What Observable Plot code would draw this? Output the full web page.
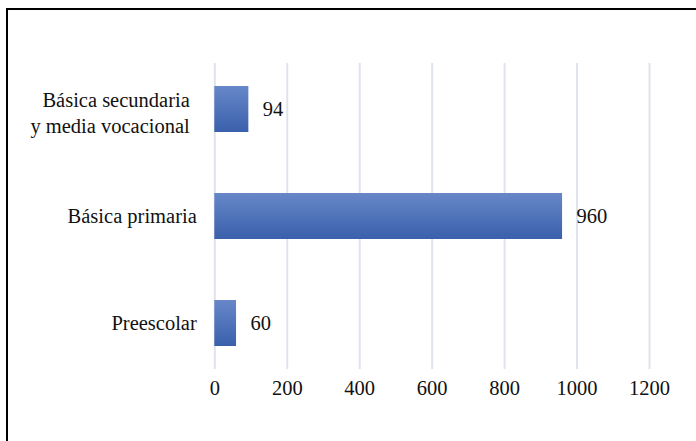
<!DOCTYPE html>
<html>
<head>
<meta charset="utf-8">
<script src="https://cdn.jsdelivr.net/npm/d3@7"></script>
<script src="https://cdn.jsdelivr.net/npm/@observablehq/plot@0.6"></script>
<style>
  html, body { margin: 0; padding: 0; background: #fff; }
</style>
</head>
<body>
<div id="chart"></div>
<script>
// Enrolment by education level
const levels = ["Básica secundaria\ny media vocacional", "Básica primaria", "Preescolar"];
const counts = [94, 960, 60];
const xTicks = [0, 200, 400, 600, 800, 1000, 1200];

const rows = levels.map((level, i) => ({level, count: counts[i]}));

const chart = Plot.plot({
  width: 696,
  height: 441,
  marginLeft: 214.3,
  marginRight: 47,
  marginTop: 63,
  marginBottom: 72,
  style: {fontFamily: "Liberation Serif", fontSize: "20.5px"},
  x: {domain: [0, 1200], axis: null},
  y: {domain: levels, paddingInner: 0.566, paddingOuter: 0.2, axis: null},
  marks: [
    Plot.ruleX(xTicks, {stroke: "#dfe3eb", strokeWidth: 2}),
    Plot.barX(rows, {x: "count", y: "level", fill: "url(#barGrad)"}),
    // x tick labels below the plot area
    Plot.text(xTicks, {x: d => d, frameAnchor: "bottom", dy: 25, text: d => String(d), fill: "#111"}),
    // value labels
    Plot.text(rows, {x: "count", y: "level", text: d => String(d.count), textAnchor: "start", dx: 14, fill: "#111"}),
    // category labels left of the bars
    Plot.text(rows.filter(d => !d.level.includes("\n")), {
      x: 0, y: "level", text: "level", textAnchor: "end", dx: -18, fill: "#111"
    }),
    Plot.text(rows.filter(d => d.level.includes("\n")), {
      x: 0, y: "level", text: "level", textAnchor: "end", dx: -25, dy: 2, lineHeight: 1.27, fill: "#111"
    })
  ]
});

const svg = d3.select(chart);

// vertical gradient used by the bars
const grad = svg.insert("defs", ":first-child")
  .append("linearGradient")
  .attr("id", "barGrad")
  .attr("x1", 0).attr("y1", 0).attr("x2", 0).attr("y2", 1);
grad.append("stop").attr("offset", "0%").attr("stop-color", "#6787c8");
grad.append("stop").attr("offset", "100%").attr("stop-color", "#3a60ac");

// outer chart border (top and left edges)
svg.append("path")
  .attr("d", "M7,441V9H696")
  .attr("fill", "none")
  .attr("stroke", "#000")
  .attr("stroke-width", 2);

document.getElementById("chart").appendChild(chart);
</script>
</body>
</html>
